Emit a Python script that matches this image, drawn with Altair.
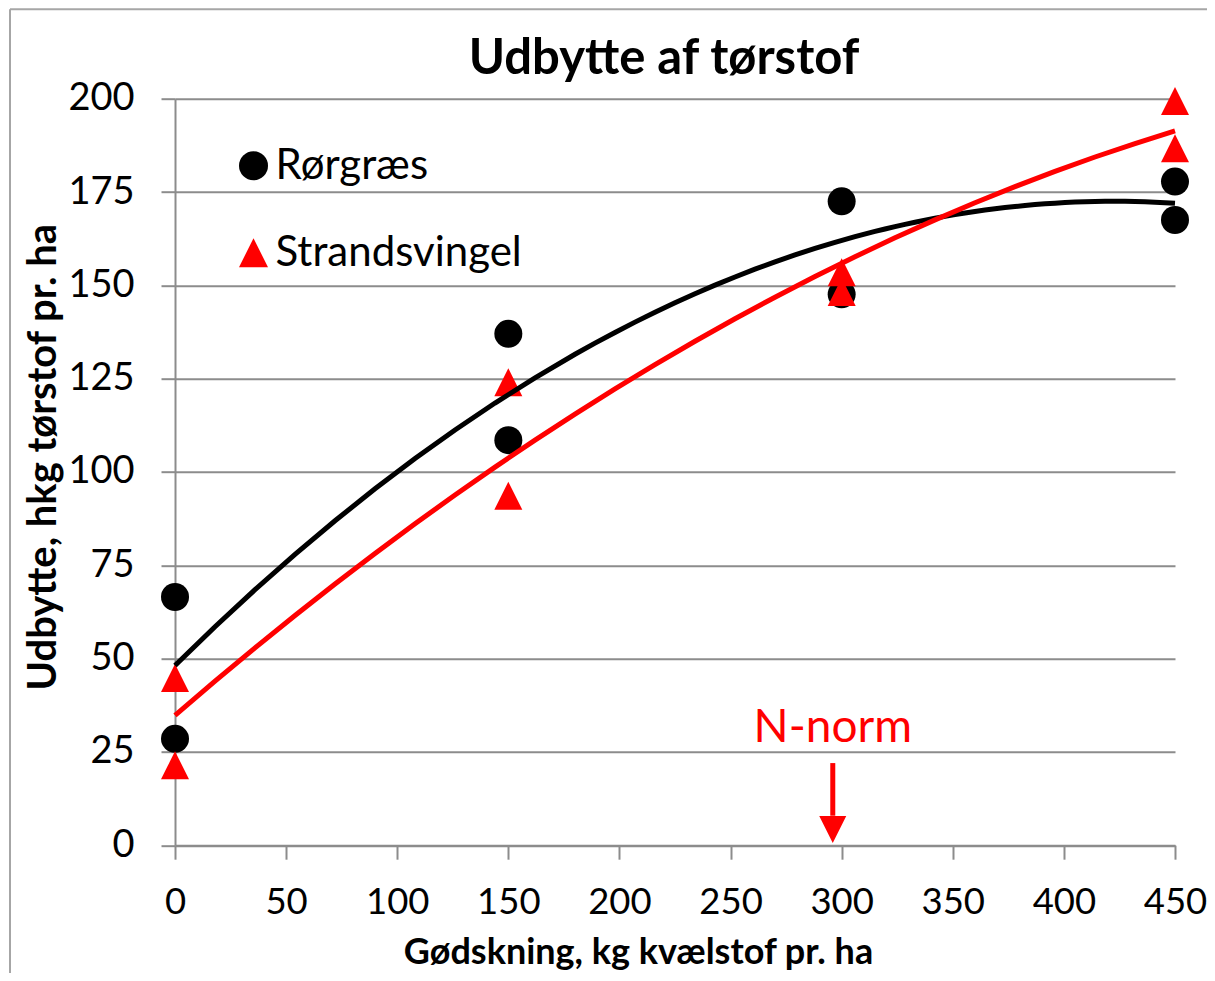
import altair as alt
import pandas as pd

# ---- data ----
series_names = ["Rørgræs", "Strandsvingel"]
x_ror = [0, 0, 150, 150, 300, 300, 450, 450]
y_ror = [66.5, 28.5, 137.0, 108.5, 172.5, 147.6, 177.8, 167.5]
x_str = [0, 0, 150, 150, 300, 300, 450, 450]
y_str = [44.8, 21.4, 124.0, 93.6, 153.5, 148.2, 199.4, 186.7]

x_ticks = [0, 50, 100, 150, 200, 250, 300, 350, 400, 450]
y_ticks = [0, 25, 50, 75, 100, 125, 150, 175, 200]

chart_title = ["Udbytte af tørstof"]
norm_x = [296]
norm_label = ["N-norm"]
norm_text_y = [27.7]
norm_shaft_top = [22.0]
norm_shaft_bottom = [7.9]
norm_head_y = [4.2]

FONT = "Lato"
GRID = "#8c8c8c"
FRAME = "#a6a6a6"

df = pd.DataFrame({
    "x": x_ror + x_str,
    "y": y_ror + y_str,
    "series": [series_names[0]] * len(x_ror) + [series_names[1]] * len(x_str),
})
norm_df = pd.DataFrame({
    "x": norm_x, "label": norm_label, "ty": norm_text_y,
    "y1": norm_shaft_top, "y2": norm_shaft_bottom, "hy": norm_head_y,
})

xscale = alt.Scale(domain=[0, 450], nice=False, zero=False)
yscale = alt.Scale(domain=[0, 200], nice=False)

xaxis = alt.Axis(
    values=x_ticks, grid=False, title="Gødskning, kg kvælstof pr. ha",
    titleFont=FONT, titleFontSize=36, titleFontWeight="bold", titleColor="black",
    titleBaseline="alphabetic", titleX=463, titleY=118, titleAnchor="middle",
    titleLimit=1000,
    labelFont=FONT, labelFontSize=36.5, labelColor="black", labelPadding=25.5,
    labelFlush=False, labelOverlap=False,
    domainColor=GRID, domainWidth=2, tickColor=GRID, tickWidth=2, tickSize=14,
)
yaxis = alt.Axis(
    values=y_ticks, grid=True, gridColor=GRID, gridWidth=2,
    title="Udbytte, hkg tørstof pr. ha",
    titleFont=FONT, titleFontSize=40, titleFontWeight="bold", titleColor="black",
    titleBaseline="alphabetic", titleAngle=-90, titleX=-120, titleY=358,
    titleAnchor="middle", titleLimit=1000,
    labelFont=FONT, labelFontSize=38, labelColor="black", labelPadding=27,
    labelFlush=False, labelOverlap=False,
    domainColor=GRID, domainWidth=2, tickColor=GRID, tickWidth=2, tickSize=14,
)

legend = alt.Legend(
    title=None, orient="none", legendX=57.5, legendY=46, padding=0,
    labelFont=FONT, labelFontSize=42, labelColor="black", labelOffset=1,
    labelLimit=600, symbolSize=841, rowPadding=45, symbolStrokeWidth=0,
)

tri_up = "M0,-1L1,1L-1,1Z"
tri_down = "M-1,-1L1,-1L0,1Z"

base = alt.Chart(df)

one = pd.DataFrame({"k": [0]})
frame_top = alt.Chart(one).mark_rule(color=FRAME, strokeWidth=2, clip=False).encode(
    x=alt.value(-165), x2=alt.value(1200), y=alt.value(-89.5)
)
frame_left = alt.Chart(one).mark_rule(color=FRAME, strokeWidth=2, clip=False).encode(
    x=alt.value(-165), y=alt.value(-89.5), y2=alt.value(1200)
)

title_mark = alt.Chart(pd.DataFrame({"t": chart_title})).mark_text(
    font=FONT, fontSize=49, fontWeight="bold", color="black",
    align="center", baseline="alphabetic", clip=False,
).encode(text="t:N", x=alt.value(489), y=alt.value(-24.7))

points = base.mark_point(filled=True, size=784, opacity=1, strokeWidth=0).encode(
    x=alt.X("x:Q", scale=xscale, axis=xaxis),
    y=alt.Y("y:Q", scale=yscale, axis=yaxis),
    color=alt.Color("series:N", scale=alt.Scale(domain=series_names, range=["black", "red"]), legend=legend),
    shape=alt.Shape("series:N", scale=alt.Scale(domain=series_names, range=["circle", tri_up]), legend=legend),
    order=alt.Order("series:N"),
)

def trend(name, color):
    return base.transform_filter(alt.datum.series == name).transform_regression(
        "x", "y", method="poly", order=2, extent=[0, 450]
    ).mark_line(color=color, strokeWidth=5).encode(
        x=alt.X("x:Q", scale=xscale),
        y=alt.Y("y:Q", scale=yscale),
    )

line_black = trend(series_names[0], "black")
line_red = trend(series_names[1], "red")

nbase = alt.Chart(norm_df)
norm_text = nbase.mark_text(
    font=FONT, fontSize=46, color="red", baseline="alphabetic", align="center"
).encode(x=alt.X("x:Q", scale=xscale), y=alt.Y("ty:Q", scale=yscale), text="label:N")
norm_shaft = nbase.mark_rule(color="red", strokeWidth=5).encode(
    x=alt.X("x:Q", scale=xscale), y=alt.Y("y1:Q", scale=yscale), y2="y2:Q"
)
norm_head = nbase.mark_point(shape=tri_down, size=729, filled=True, color="red", opacity=1, strokeWidth=0).encode(
    x=alt.X("x:Q", scale=xscale), y=alt.Y("hy:Q", scale=yscale)
)

chart = alt.layer(
    frame_top, frame_left, title_mark, points, line_black, line_red,
    norm_shaft, norm_head, norm_text
).properties(
    width=1000, height=746.5,
    autosize=alt.AutoSizeParams(type="none"),
    padding={"left": 167, "top": 90.7, "right": 32, "bottom": 127.5},
    background="white",
).configure_view(stroke="transparent")

chart.save("out.html", embed_options={"renderer": "svg", "actions": False})
